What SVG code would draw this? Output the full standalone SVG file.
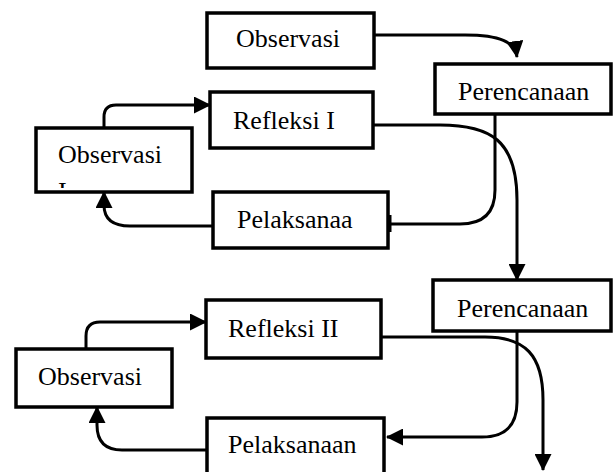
<svg xmlns="http://www.w3.org/2000/svg" width="614" height="472" viewBox="0 0 614 472">
<defs>
<style>
.box{fill:#fff;stroke:#000;stroke-width:3.5}
.lbl{font-family:"Liberation Serif","Times New Roman",serif;font-size:26px;fill:#000}
.con{fill:none;stroke:#000;stroke-width:3}
</style>
<marker id="ah" markerUnits="userSpaceOnUse" markerWidth="17" markerHeight="17" viewBox="0 0 17 17" refX="16" refY="8.5" orient="auto">
<path d="M0,0 L17,8.5 L0,17 z" fill="#000"/>
</marker>
<clipPath id="clipObs1"><rect x="37" y="129" width="154" height="59"/></clipPath>
</defs>
<rect width="614" height="472" fill="#fff"/>
<g id="connectors">
<path class="con" d="M374,35 H465 C500,35 515,42 517,57" marker-end="url(#ah)"/>
<path class="con" d="M104,128 V117 Q104,105 116,105 H210" marker-end="url(#ah)"/>
<path class="con" d="M213,226 H130 Q104,226 104,205 V192" marker-end="url(#ah)"/>
<path class="con" d="M495,115 V190 Q495,224 460,224 H389"/>
<path class="con" d="M390,215 V232"/>
<path class="con" d="M374,125 H440 C490,125 517,140 517,200 V280" marker-end="url(#ah)"/>
<path class="con" d="M517,331 V402 Q517,437 482,437 H387" marker-end="url(#ah)"/>
<path class="con" d="M381,337 H485 C525,337 543,355 543,400 V470" marker-end="url(#ah)"/>
<path class="con" d="M86,349 V336 Q86,322 100,322 H206" marker-end="url(#ah)"/>
<path class="con" d="M215,450 H122 Q97,450 97,425 V407" marker-end="url(#ah)"/>
</g>
<g id="observasi-top">
<rect class="box" x="207" y="13" width="167" height="55"/>
<text class="lbl" x="236" y="47">Observasi</text>
</g>
<g id="perencanaan-1">
<rect class="box" x="435" y="64" width="176" height="50"/>
<text class="lbl" x="458" y="100">Perencanaan</text>
</g>
<g id="refleksi-1">
<rect class="box" x="210" y="92" width="163" height="56"/>
<text class="lbl" x="233" y="129">Refleksi I</text>
</g>
<g id="observasi-1">
<rect class="box" x="36" y="128" width="156" height="64"/>
<g clip-path="url(#clipObs1)">
<text class="lbl" x="58" y="163">Observasi</text>
<text class="lbl" x="58" y="200">I</text>
</g>
</g>
<g id="pelaksanaa-1">
<rect class="box" x="213" y="192" width="175" height="56"/>
<text class="lbl" x="237" y="228">Pelaksanaa</text>
</g>
<g id="perencanaan-2">
<rect class="box" x="433" y="280" width="178" height="51"/>
<text class="lbl" x="457" y="317">Perencanaan</text>
</g>
<g id="refleksi-2">
<rect class="box" x="206" y="300" width="175" height="58"/>
<text class="lbl" x="228" y="337">Refleksi II</text>
</g>
<g id="observasi-2">
<rect class="box" x="16" y="349" width="156" height="58"/>
<text class="lbl" x="38" y="385">Observasi</text>
</g>
<g id="pelaksanaan-2">
<rect class="box" x="207" y="418" width="177" height="60"/>
<text class="lbl" x="228" y="453">Pelaksanaan</text>
</g>
</svg>
